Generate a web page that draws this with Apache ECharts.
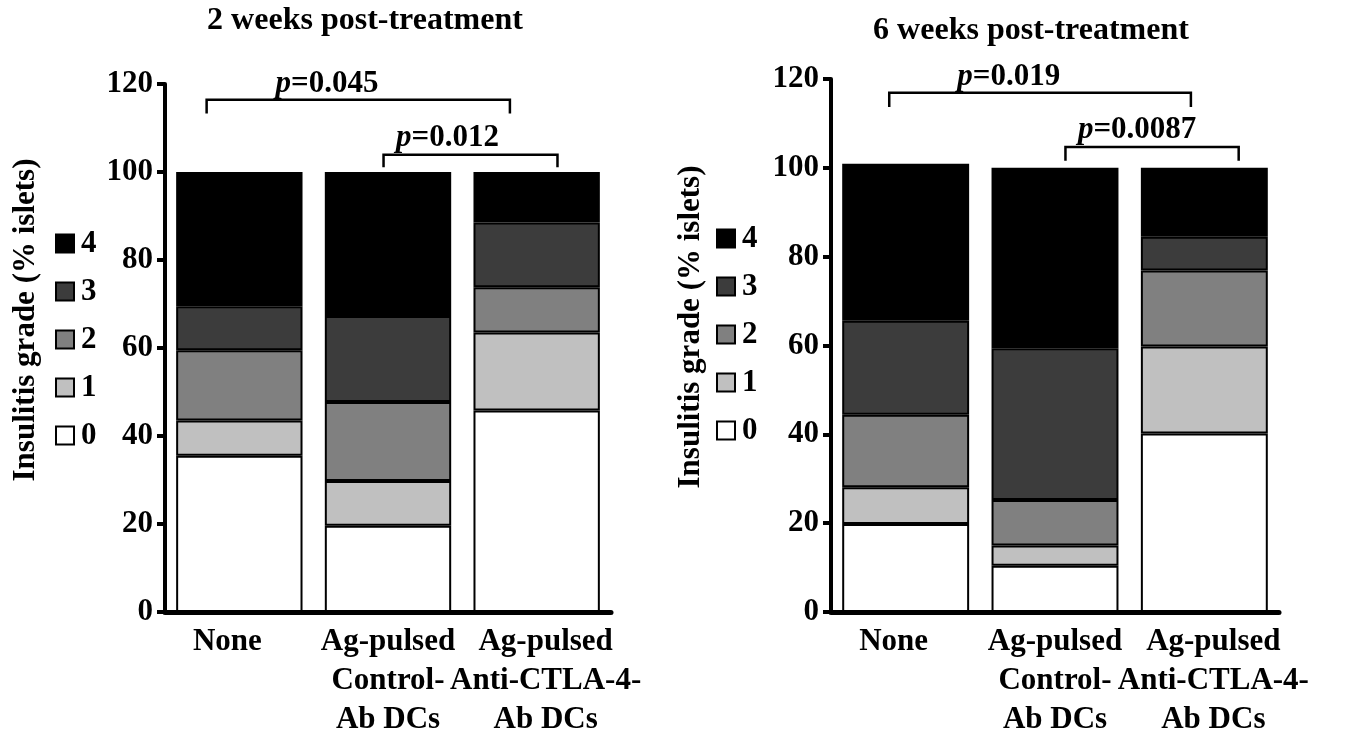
<!DOCTYPE html>
<html>
<head>
<meta charset="utf-8">
<script src="https://cdn.jsdelivr.net/npm/echarts@6/dist/echarts.min.js"></script>
<style>
  html, body { margin: 0; padding: 0; background: #fff; }
  #chart { width: 1345px; height: 738px; }
</style>
</head>
<body>
<div id="chart"></div>
<script type="text/javascript">

var categories = ['None', 'Ag-pulsed\nControl-\nAb DCs', 'Ag-pulsed\nAnti-CTLA-4-\nAb DCs'];
var grades = ['0', '1', '2', '3', '4'];
var yTicks = [0, 20, 40, 60, 80, 100, 120];

// % islets in each grade (stacked from grade 0 up)
var w2g0 = [35.5, 19.6, 45.8];
var w2g1 = [8.0, 10.2, 17.7];
var w2g2 = [16.0, 17.9, 10.3];
var w2g3 = [10.0, 19.6, 14.7];
var w2g4 = [30.5, 32.7, 11.5];

var w6g0 = [19.8, 10.4, 40.2];
var w6g1 = [8.3, 4.6, 19.6];
var w6g2 = [16.3, 10.2, 17.1];
var w6g3 = [21.2, 34.2, 7.6];
var w6g4 = [35.3, 40.6, 15.5];

// significance brackets: p values, ends (category position), bar top / foot values
var w2P = ['0.045', '0.012'];
var w2BrX = [[-0.22, 1.82], [0.97, 2.14]];
var w2BrY = [[116.4, 113.3], [103.9, 101.1]];
var w2PAt = [[0.59, 116.5], [1.40, 104.3]];

var w6P = ['0.019', '0.0087'];
var w6BrX = [[-0.11, 1.91], [1.07, 2.23]];
var w6BrY = [[116.9, 113.7], [104.7, 101.6]];
var w6PAt = [[0.69, 117.0], [1.55, 105.0]];

var FONT = '"Liberation Serif", "Times New Roman", serif';
var colors = ['#ffffff', '#c0c0c0', '#808080', '#3c3c3c', '#000000'];

var mychart = echarts.init(document.getElementById('chart'));

function bars(gridIdx, stack, cols) {
    return cols.map(function (vals, g) {
        return {
            name: grades[g],
            type: 'bar',
            stack: stack,
            xAxisIndex: gridIdx,
            yAxisIndex: gridIdx,
            barWidth: '85%',
            data: vals,
            itemStyle: { color: colors[g], borderColor: '#000', borderWidth: 2 }
        };
    });
}

function brackets(gridIdx, pvals, brX, brY, pAt) {
    return {
        type: 'custom',
        xAxisIndex: gridIdx,
        yAxisIndex: gridIdx,
        silent: true,
        clip: false,
        data: pvals.map(function (p, i) { return [i, 0]; }),
        renderItem: function (params, api) {
            var i = params.dataIndex;
            var band = api.size([1, 0])[0];
            var x0 = api.coord([0, 0])[0];
            var xa = x0 + brX[i][0] * band;
            var xb = x0 + brX[i][1] * band;
            var yTop = api.coord([0, brY[i][0]])[1];
            var yFoot = api.coord([0, brY[i][1]])[1];
            return {
                type: 'group',
                children: [{
                    type: 'polyline',
                    shape: { points: [[xa, yFoot], [xa, yTop], [xb, yTop], [xb, yFoot]] },
                    style: { stroke: '#000', lineWidth: 2.5, fill: null }
                }, {
                    type: 'text',
                    style: {
                        x: x0 + pAt[i][0] * band,
                        y: api.coord([0, pAt[i][1]])[1],
                        text: '{i|p}{b|=' + pvals[i] + '}',
                        align: 'center',
                        verticalAlign: 'bottom',
                        rich: {
                            i: { fontFamily: FONT, fontSize: 31, fontStyle: 'italic', fontWeight: 'bold', fill: '#000' },
                            b: { fontFamily: FONT, fontSize: 31, fontWeight: 'bold', fill: '#000' }
                        }
                    }
                }]
            };
        }
    };
}

function xAx(gridIdx) {
    return {
        type: 'category',
        gridIndex: gridIdx,
        data: categories,
        axisLine: { lineStyle: { color: '#000', width: 5 } },
        axisTick: { length: 9, lineStyle: { color: '#000', width: 4 } },
        axisLabel: {
            interval: 0,
            margin: 10,
            formatter: function (v, idx) {
                var key = ['a', 'b', 'c'][idx];
                return v.split('\n').map(function (s) { return '{' + key + '|' + s + '}'; }).join('\n');
            },
            rich: {
                a: { fontFamily: FONT, fontSize: 31, fontWeight: 'bold', color: '#000', lineHeight: 39, padding: [0, 24, 0, 0] },
                b: { fontFamily: FONT, fontSize: 31, fontWeight: 'bold', color: '#000', lineHeight: 39 },
                c: { fontFamily: FONT, fontSize: 31, fontWeight: 'bold', color: '#000', lineHeight: 39, padding: [0, 0, 0, 18] }
            }
        }
    };
}

function yAx(gridIdx) {
    return {
        type: 'value',
        gridIndex: gridIdx,
        min: yTicks[0],
        max: yTicks[yTicks.length - 1],
        interval: 20,
        splitLine: { show: false },
        axisLine: { show: true, lineStyle: { color: '#000', width: 4 } },
        axisTick: { show: true, length: 8, lineStyle: { color: '#000', width: 4 } },
        axisLabel: { margin: 12, fontFamily: FONT, fontSize: 31, fontWeight: 'bold', color: '#000' }
    };
}

function legend(left, top) {
    return {
        orient: 'vertical',
        left: left,
        top: top,
        data: grades.slice().reverse(),
        icon: 'rect',
        itemWidth: 18,
        itemHeight: 18,
        itemGap: 17,
        selectedMode: false,
        itemStyle: { borderColor: '#000', borderWidth: 2 },
        textStyle: { fontFamily: FONT, fontSize: 31, fontWeight: 'bold', color: '#000', padding: [0, 0, 0, 2] }
    };
}

var option = {
    animation: false,
    backgroundColor: '#fff',
    title: [
        { text: '2 weeks post-treatment', left: 360, top: 0, textAlign: 'center',
          textStyle: { fontFamily: FONT, fontSize: 32, fontWeight: 'bold', color: '#000' } },
        { text: '6 weeks post-treatment', left: 1026, top: 10, textAlign: 'center',
          textStyle: { fontFamily: FONT, fontSize: 32, fontWeight: 'bold', color: '#000' } }
    ],
    legend: [legend(50, 223), legend(711, 218)],
    grid: [
        { left: 165, top: 84, width: 446, height: 528, outerBoundsMode: 'none', containLabel: false },
        { left: 831, top: 79, width: 448, height: 533, outerBoundsMode: 'none', containLabel: false }
    ],
    xAxis: [xAx(0), xAx(1)],
    yAxis: [yAx(0), yAx(1)],
    graphic: [
        { type: 'text', x: 26, y: 320, rotation: Math.PI / 2,
          style: { text: 'Insulitis grade (% islets)', align: 'center', verticalAlign: 'middle',
                   font: 'bold 31px ' + FONT, fill: '#000' } },
        { type: 'text', x: 691, y: 327, rotation: Math.PI / 2,
          style: { text: 'Insulitis grade (% islets)', align: 'center', verticalAlign: 'middle',
                   font: 'bold 31px ' + FONT, fill: '#000' } }
    ],
    series: []
        .concat(bars(0, 'w2', [w2g0, w2g1, w2g2, w2g3, w2g4]))
        .concat(bars(1, 'w6', [w6g0, w6g1, w6g2, w6g3, w6g4]))
        .concat([brackets(0, w2P, w2BrX, w2BrY, w2PAt), brackets(1, w6P, w6BrX, w6BrY, w6PAt)])
};

mychart.setOption(option);
</script>
</body>
</html>
